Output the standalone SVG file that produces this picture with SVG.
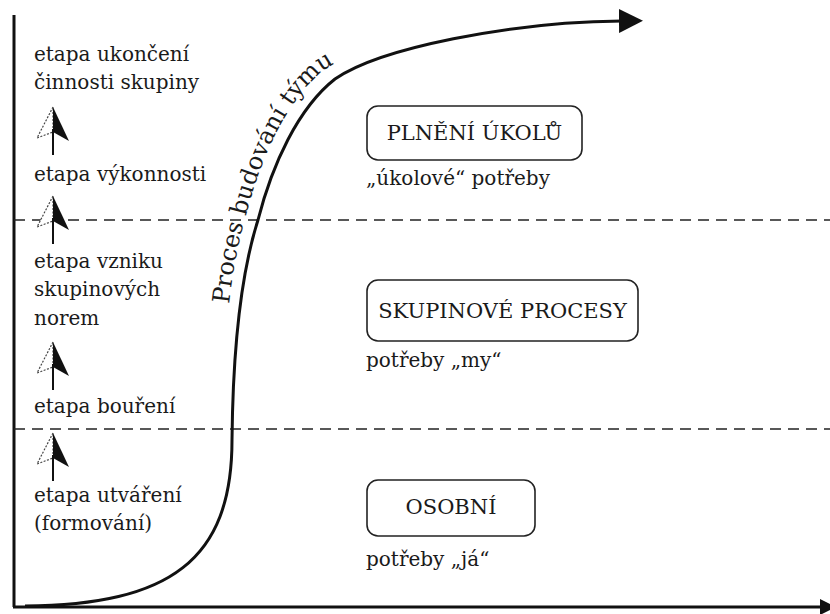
<svg xmlns="http://www.w3.org/2000/svg" width="830" height="614" viewBox="0 0 830 614">
<style>
  .lbl { font-family: "DejaVu Serif", "Liberation Serif", serif; font-size: 20px; fill: #1a1a1a; }
  .cap { font-family: "DejaVu Serif", "Liberation Serif", serif; font-size: 21px; fill: #1a1a1a; text-anchor: middle; }
  .box { fill: #ffffff; stroke: #222; stroke-width: 1.6; }
  .axis { fill: none; stroke: #111; stroke-width: 3; }
  .dash { fill: none; stroke: #222; stroke-width: 1.6; stroke-dasharray: 11 7; }
  .curve { fill: none; stroke: #111; stroke-width: 3; }
</style>
<defs>
  <g id="stageArrow">
    <polygon points="0,0 -16,31 0,25" fill="#ffffff" stroke="#444" stroke-width="1.2" stroke-dasharray="2 1.5"/>
    <polygon points="0,0 16,34 0,25" fill="#111"/>
    <line x1="0" y1="22" x2="0" y2="48" stroke="#111" stroke-width="2"/>
  </g>
  <marker id="head" markerWidth="8" markerHeight="8" refX="1" refY="4" orient="auto" markerUnits="strokeWidth">
    <path d="M0,0 L8,4 L0,8 Z" fill="#111"/>
  </marker>
  <path id="curveText" d="M 222 434 C 223 334, 231 264, 247 212 C 261 157, 287 100, 324 70 C 369 39, 500 13, 612 12"/>
</defs>
<rect width="830" height="614" fill="#ffffff"/>

<g id="axes">
  <line class="axis" x1="14" y1="15" x2="14" y2="607"/>
  <line class="axis" x1="13" y1="607" x2="822" y2="607"/>
  <polygon points="820,599 836,607 820,615" fill="#111"/>
</g>

<g id="dividers">
  <line class="dash" x1="14" y1="220" x2="830" y2="220"/>
  <line class="dash" x1="14" y1="429" x2="830" y2="429"/>
</g>

<g id="connectors">
  <path id="teamCurve" class="curve" d="M 25 606 C 170 605, 232 560, 232 440 C 233 340, 242 270, 258 220 C 272 165, 298 108, 335 79 C 380 48, 510 22, 622 21" marker-end="url(#head)"/>
  <use href="#stageArrow" x="53" y="107"/>
  <use href="#stageArrow" x="53" y="196"/>
  <use href="#stageArrow" x="53" y="342"/>
  <use href="#stageArrow" x="53" y="433"/>
</g>

<g id="curve-label">
  <text class="lbl" style="font-size:24px"><textPath href="#curveText" startOffset="130">Proces budování týmu</textPath></text>
</g>

<g id="stage-ukonceni">
  <text class="lbl" x="34" y="61">etapa ukončení</text>
  <text class="lbl" x="34" y="89">činnosti skupiny</text>
</g>
<g id="stage-vykonnosti">
  <text class="lbl" x="34" y="181">etapa výkonnosti</text>
</g>
<g id="stage-norem">
  <text class="lbl" x="34" y="268">etapa vzniku</text>
  <text class="lbl" x="34" y="296">skupinových</text>
  <text class="lbl" x="34" y="325">norem</text>
</g>
<g id="stage-boureni">
  <text class="lbl" x="34" y="413">etapa bouření</text>
</g>
<g id="stage-utvareni">
  <text class="lbl" x="34" y="502">etapa utváření</text>
  <text class="lbl" x="34" y="530">(formování)</text>
</g>

<g id="box-ukoly">
  <rect class="box" x="367" y="106" width="215" height="54" rx="11"/>
  <text class="cap" x="474.5" y="140">PLNĚNÍ ÚKOLŮ</text>
  <text class="lbl" x="366" y="185">„úkolové“ potřeby</text>
</g>
<g id="box-skupinove">
  <rect class="box" x="367" y="280" width="271" height="61" rx="11"/>
  <text class="cap" x="502.5" y="318">SKUPINOVÉ PROCESY</text>
  <text class="lbl" x="366" y="367">potřeby „my“</text>
</g>
<g id="box-osobni">
  <rect class="box" x="367" y="480" width="168" height="56" rx="11"/>
  <text class="cap" x="451" y="514">OSOBNÍ</text>
  <text class="lbl" x="366" y="566">potřeby „já“</text>
</g>
</svg>
